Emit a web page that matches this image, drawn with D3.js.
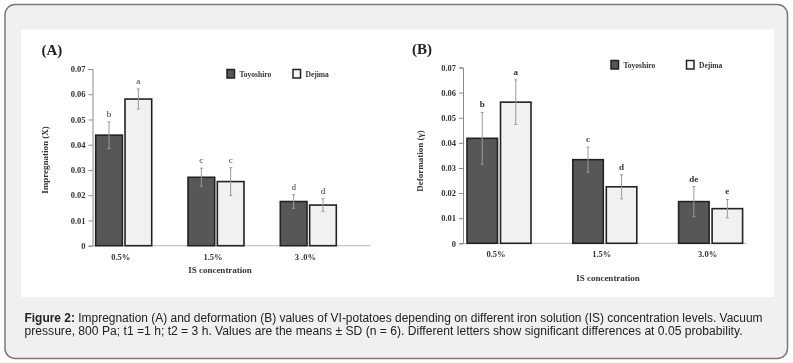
<!DOCTYPE html>
<html><head><meta charset="utf-8">
<script src="https://cdn.jsdelivr.net/npm/d3@7"></script>
<style>html,body{margin:0;padding:0;background:#fff;}svg{display:block;will-change:transform;}</style>
</head><body>
<svg id="c" width="793" height="363"></svg>
<script>
const categories = ["0.5%", "1.5%", "3.0%"];
const categoriesA = ["0.5%", "1.5%", "3 .0%"];
const series = ["Toyoshiro", "Dejima"];
const impToyoshiro = [0.0438, 0.0271, 0.0175];
const impToyoshiroSD = [0.0053, 0.0036, 0.0027];
const impDejima = [0.0581, 0.0254, 0.0161];
const impDejimaSD = [0.0040, 0.0055, 0.0025];
const impLetters = [["b", "a"], ["c", "c"], ["d", "d"]];
const defToyoshiro = [0.0418, 0.0333, 0.0166];
const defToyoshiroSD = [0.0103, 0.0050, 0.0060];
const defDejima = [0.0562, 0.0225, 0.0138];
const defDejimaSD = [0.0089, 0.0048, 0.0037];
const defLetters = [["b", "a"], ["c", "d"], ["de", "e"]];
const yTicks = [0, 0.01, 0.02, 0.03, 0.04, 0.05, 0.06, 0.07];
const captionBold = "Figure 2:";
const captionLine1 = " Impregnation (A) and deformation (B) values of VI-potatoes depending on different iron solution (IS) concentration levels. Vacuum";
const captionLine2 = "pressure, 800 Pa; t1 =1 h; t2 = 3 h. Values are the means \u00b1 SD (n = 6). Different letters show significant differences at 0.05 probability.";

const svg = d3.select("#c");
const SERIF = "'Liberation Serif','DejaVu Serif',serif";
const SANS = "'Liberation Sans',Arial,sans-serif";

// frame
svg.append("rect").attr("x", 5).attr("y", 4.5).attr("width", 782.5).attr("height", 354)
  .attr("rx", 10).attr("fill", "#f0f0f0").attr("stroke", "#7a7a7a").attr("stroke-width", 1.5);
svg.append("rect").attr("x", 21).attr("y", 29.5).attr("width", 753).attr("height", 267.5).attr("fill", "#fff");

function panel(cfg) {
  const g = svg.append("g");
  const y = d3.scaleLinear().domain([0, 0.07]).range([cfg.y0, cfg.y7]);
  const step = cfg.step;
  const x = d3.scaleBand().domain(cfg.cats).range([cfg.c0 - step / 2, cfg.c0 - step / 2 + step * 3]).padding(0);
  const sx = d3.scaleBand().domain(series).range([-cfg.half, cfg.half]).paddingInner(cfg.inner);

  // x axis baseline
  g.append("line").attr("x1", cfg.ax).attr("x2", cfg.xEnd).attr("y1", cfg.y0).attr("y2", cfg.y0)
    .attr("stroke", "#b5b5b5").attr("stroke-width", 1);

  // y axis
  const ya = g.append("g").attr("transform", `translate(${cfg.ax},0)`)
    .call(d3.axisLeft(y).tickValues(yTicks).tickSize(4).tickPadding(3)
      .tickFormat(d => d === 0 ? "0" : d3.format(".2f")(d)));
  ya.select(".domain").attr("stroke", "#8a8a8a");
  ya.selectAll(".tick line").attr("stroke", "#8a8a8a");
  ya.selectAll("text").attr("font-family", SERIF).attr("font-size", 8.5).attr("font-weight", "bold").attr("fill", "#333");

  // bars
  const vals = [cfg.t, cfg.d], sds = [cfg.tsd, cfg.dsd];
  series.forEach((s, si) => {
    cfg.cats.forEach((c, ci) => {
      const cx = x(c) + x.bandwidth() / 2;
      const bx = cx + sx(s);
      const v = vals[si][ci], sd = sds[si][ci];
      g.append("rect").attr("x", bx).attr("y", y(v)).attr("width", sx.bandwidth()).attr("height", cfg.y0 - y(v))
        .attr("fill", si === 0 ? "#575757" : "#f1f1f1").attr("stroke", "#222").attr("stroke-width", 1.6);
      const ex = bx + sx.bandwidth() / 2;
      g.append("line").attr("x1", ex).attr("x2", ex).attr("y1", y(v + sd)).attr("y2", y(v - sd))
        .attr("stroke", "#9a9a9a").attr("stroke-width", 1);
      [v + sd, v - sd].forEach(e => g.append("line").attr("x1", ex - 1.5).attr("x2", ex + 1.5)
        .attr("y1", y(e)).attr("y2", y(e)).attr("stroke", "#9a9a9a").attr("stroke-width", 1));
      g.append("text").attr("x", ex).attr("y", y(v + sd) - 5).attr("text-anchor", "middle")
        .attr("font-family", SERIF).attr("font-size", 9).attr("font-weight", cfg.letterBold ? "bold" : "normal")
        .attr("fill", "#333").text(cfg.letters[ci][si]);
    });
  });
  cfg.cats.forEach(c => {
    g.append("text").attr("x", x(c) + x.bandwidth() / 2 - 3).attr("y", cfg.y0 + 14).attr("text-anchor", "middle")
      .attr("font-family", SERIF).attr("font-size", 8.5).attr("font-weight", "bold").attr("fill", "#333").text(c);
  });

  // titles
  g.append("text").attr("x", cfg.titleX).attr("y", cfg.titleY).attr("font-family", SERIF).attr("font-size", 15)
    .attr("font-weight", "bold").attr("fill", "#222").text(cfg.title);
  g.append("text").attr("transform", `translate(${cfg.ylabX},${cfg.ylabY}) rotate(-90)`).attr("text-anchor", "middle")
    .attr("font-family", SERIF).attr("font-size", 9).attr("font-weight", "bold").attr("fill", "#333").text(cfg.ylab);
  g.append("text").attr("x", cfg.xlabX).attr("y", cfg.xlabY).attr("text-anchor", "middle")
    .attr("font-family", SERIF).attr("font-size", 9).attr("font-weight", "bold").attr("fill", "#333").text("IS concentration");

  // legend
  series.forEach((s, si) => {
    const lx = cfg.legX[si];
    g.append("rect").attr("x", lx).attr("y", cfg.legY).attr("width", 7.5).attr("height", 8.5)
      .attr("fill", si === 0 ? "#575757" : "#f8f8f8").attr("stroke", "#222").attr("stroke-width", 1.5);
    g.append("text").attr("x", lx + 12.5).attr("y", cfg.legY + 7).attr("font-family", SERIF).attr("font-size", 7.5)
      .attr("font-weight", "bold").attr("fill", "#333").text(s);
  });
}

panel({
  cats: categoriesA, t: impToyoshiro, tsd: impToyoshiroSD, d: impDejima, dsd: impDejimaSD, letters: impLetters,
  y0: 245.7, y7: 69, ax: 92.5, xEnd: 370, c0: 123.7, step: 92.3, half: 28, inner: 0.09,
  title: "(A)", titleX: 41.5, titleY: 55, ylab: "Impregnation (X)", ylabX: 48, ylabY: 160,
  xlabX: 220, xlabY: 273, legX: [227, 293], legY: 69.5, letterBold: false
});
panel({
  cats: categories, t: defToyoshiro, tsd: defToyoshiroSD, d: defDejima, dsd: defDejimaSD, letters: defLetters,
  y0: 243.3, y7: 67.5, ax: 463, xEnd: 746, c0: 499, step: 105.8, half: 32, inner: 0.09,
  title: "(B)", titleX: 412, titleY: 54, ylab: "Deformation (\u03b3)", ylabX: 423, ylabY: 161,
  xlabX: 608, xlabY: 281, legX: [611, 686.5], legY: 60.5, letterBold: true
});

// caption
const cap = svg.append("g").attr("font-family", SANS).attr("font-size", 12).attr("fill", "#222");
const t1 = cap.append("text").attr("x", 24.5).attr("y", 322).attr("textLength", 738).attr("lengthAdjust", "spacingAndGlyphs");
t1.append("tspan").attr("font-weight", "bold").text(captionBold);
t1.append("tspan").text(captionLine1);
cap.append("text").attr("x", 24.5).attr("y", 334.5).attr("textLength", 718).attr("lengthAdjust", "spacingAndGlyphs").text(captionLine2);
</script>
</body></html>
